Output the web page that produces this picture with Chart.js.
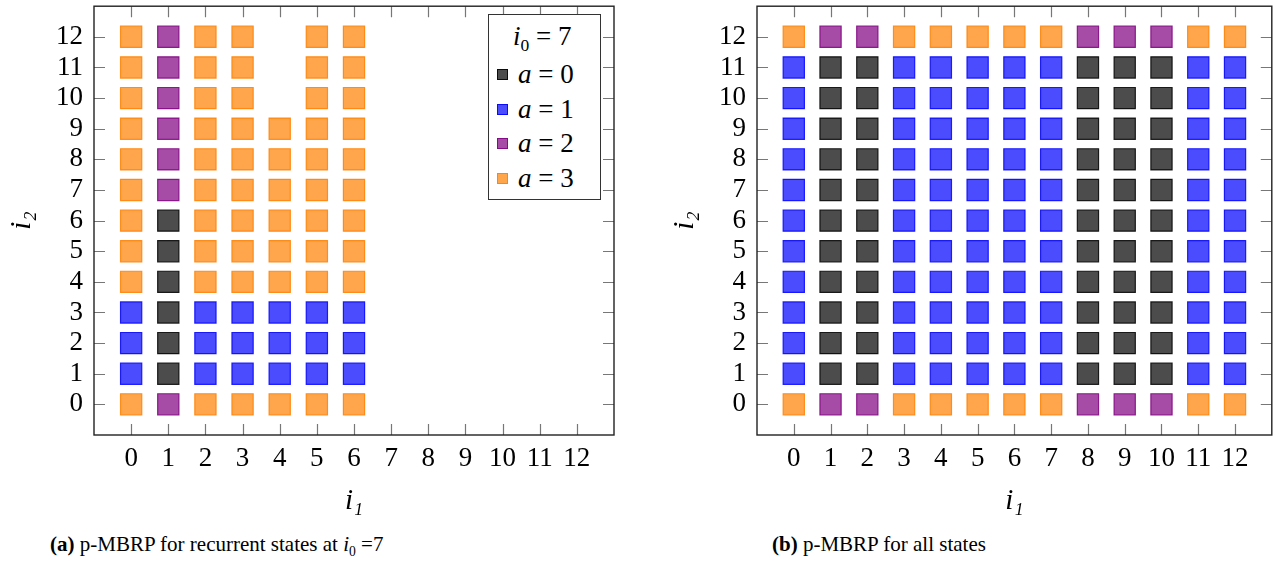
<!DOCTYPE html>
<html>
<head>
<meta charset="utf-8">
<script src="https://cdn.jsdelivr.net/npm/chart.js@4.4.1/dist/chart.umd.min.js"></script>
<style>
  body { margin: 0; background: #fff; font-family: "Liberation Serif", "DejaVu Serif", serif; }
  #page { position: relative; width: 1288px; height: 568px; overflow: hidden; }
  canvas { position: absolute; top: -10px; }
  #legend {
    position: absolute; left: 488px; top: 14px; width: 111px; height: 184px;
    border: 1.3px solid #333; background: #fff; font-size: 27px; color: #000;
  }
  #legend .title { position: absolute; left: 24px; top: 6px; white-space: nowrap; }
  #legend .row { position: absolute; left: 8px; white-space: nowrap; line-height: 30px; }
  #legend .sw { display: inline-block; width: 9px; height: 9px; border: 1px solid; margin-right: 10px; vertical-align: 3px; }
  sub { font-size: 65%; vertical-align: -0.35em; }
  .caption { position: absolute; top: 532px; font-size: 21px; white-space: nowrap; color: #000; }
</style>
</head>
<body>
<div id="page">
  <canvas id="chartA" width="640" height="530" style="left:0"></canvas>
  <canvas id="chartB" width="648" height="530" style="left:640px"></canvas>
  <div id="legend"></div>
  <div class="caption" style="left:50px"><b>(a)</b> p-MBRP for recurrent states at <i>i</i><sub>0</sub> =7</div>
  <div class="caption" style="left:772px"><b>(b)</b> p-MBRP for all states</div>
</div>
<script>
const i1Ticks = [0, 1, 2, 3, 4, 5, 6, 7, 8, 9, 10, 11, 12];
const i2Ticks = [0, 1, 2, 3, 4, 5, 6, 7, 8, 9, 10, 11, 12];
const actions = [0, 1, 2, 3];
const actionLabels = ["a = 0", "a = 1", "a = 2", "a = 3"];
const actionColors = ["0,0,0", "0,0,255", "128,0,128", "255,128,0"];

// best action per state, one row per i2 (0..12), columns are i1; null = state not recurrent
const policyRecurrent = [
  [3, 2, 3, 3, 3, 3, 3],
  [1, 0, 1, 1, 1, 1, 1],
  [1, 0, 1, 1, 1, 1, 1],
  [1, 0, 1, 1, 1, 1, 1],
  [3, 0, 3, 3, 3, 3, 3],
  [3, 0, 3, 3, 3, 3, 3],
  [3, 0, 3, 3, 3, 3, 3],
  [3, 2, 3, 3, 3, 3, 3],
  [3, 2, 3, 3, 3, 3, 3],
  [3, 2, 3, 3, 3, 3, 3],
  [3, 2, 3, 3, null, 3, 3],
  [3, 2, 3, 3, null, 3, 3],
  [3, 2, 3, 3, null, 3, 3]
];

const policyAll = [
  [3, 2, 2, 3, 3, 3, 3, 3, 2, 2, 2, 3, 3],
  [1, 0, 0, 1, 1, 1, 1, 1, 0, 0, 0, 1, 1],
  [1, 0, 0, 1, 1, 1, 1, 1, 0, 0, 0, 1, 1],
  [1, 0, 0, 1, 1, 1, 1, 1, 0, 0, 0, 1, 1],
  [1, 0, 0, 1, 1, 1, 1, 1, 0, 0, 0, 1, 1],
  [1, 0, 0, 1, 1, 1, 1, 1, 0, 0, 0, 1, 1],
  [1, 0, 0, 1, 1, 1, 1, 1, 0, 0, 0, 1, 1],
  [1, 0, 0, 1, 1, 1, 1, 1, 0, 0, 0, 1, 1],
  [1, 0, 0, 1, 1, 1, 1, 1, 0, 0, 0, 1, 1],
  [1, 0, 0, 1, 1, 1, 1, 1, 0, 0, 0, 1, 1],
  [1, 0, 0, 1, 1, 1, 1, 1, 0, 0, 0, 1, 1],
  [1, 0, 0, 1, 1, 1, 1, 1, 0, 0, 0, 1, 1],
  [3, 2, 2, 3, 3, 3, 3, 3, 2, 2, 2, 3, 3]
];

Chart.defaults.font.family = "'Liberation Serif', 'DejaVu Serif', serif";
Chart.defaults.color = "#000";

function buildDatasets(policy) {
  return actions.map(a => {
    const pts = [];
    policy.forEach((row, i2) => {
      row.forEach((act, i1) => {
        if (act === a) pts.push({ x: i1, y: i2 });
      });
    });
    return {
      label: actionLabels[a],
      data: pts,
      pointStyle: "rect",
      pointRadius: 15,
      pointHoverRadius: 15,
      borderWidth: 1.2,
      backgroundColor: `rgba(${actionColors[a]},0.7)`,
      borderColor: `rgba(${actionColors[a]},0.85)`
    };
  });
}

// pgfplots style box with inward ticks on all four sides
const frameTicks = {
  id: "frameTicks",
  afterDatasetsDraw(chart) {
    const { ctx, chartArea: a, scales: { x, y } } = chart;
    const len = 11;
    ctx.save();
    ctx.strokeStyle = "#777";
    ctx.lineWidth = 1.2;
    ctx.beginPath();
    x.ticks.forEach(t => {
      const px = Math.round(x.getPixelForValue(t.value)) + 0.5;
      ctx.moveTo(px, a.bottom); ctx.lineTo(px, a.bottom - len);
      ctx.moveTo(px, a.top); ctx.lineTo(px, a.top + len);
    });
    y.ticks.forEach(t => {
      const py = Math.round(y.getPixelForValue(t.value)) + 0.5;
      ctx.moveTo(a.left, py); ctx.lineTo(a.left + len, py);
      ctx.moveTo(a.right, py); ctx.lineTo(a.right - len, py);
    });
    ctx.stroke();
    ctx.strokeStyle = "#222";
    ctx.lineWidth = 1.4;
    ctx.strokeRect(a.left, a.top, a.right - a.left, a.bottom - a.top);
    ctx.restore();
  }
};

function makeChart(id, policy, yWidth, yTitlePad, rightPad) {
  return new Chart(document.getElementById(id), {
    type: "scatter",
    data: { datasets: buildDatasets(policy) },
    options: {
      responsive: false,
      animation: false,
      devicePixelRatio: 1,
      layout: { padding: { top: 0, right: rightPad, left: 0, bottom: 0 } },
      plugins: { legend: { display: false }, tooltip: { enabled: false } },
      scales: {
        x: {
          type: "linear", min: -1, max: 13,
          afterBuildTicks: s => { s.ticks = i1Ticks.map(v => ({ value: v })); },
          afterFit: s => { s.height = 85; s.paddingLeft = 0; s.paddingRight = 0; },
          grid: { display: false, drawTicks: false },
          border: { display: false },
          ticks: { font: { size: 27 }, padding: 8, maxRotation: 0, autoSkip: false, callback: v => String(v) },
          title: { display: true, text: "i₁", font: { size: 29, style: "italic" }, padding: { top: 0, bottom: 1 } }
        },
        y: {
          type: "linear", min: -1, max: 13,
          afterBuildTicks: s => { s.ticks = i2Ticks.map(v => ({ value: v })); },
          afterFit: s => { s.width = yWidth; s.paddingTop = 0; s.paddingBottom = 0; },
          grid: { display: false, drawTicks: false },
          border: { display: false },
          ticks: { font: { size: 27 }, padding: 11, autoSkip: false, callback: v => String(v) },
          title: { display: true, text: "i₂", font: { size: 29, style: "italic" }, padding: { top: yTitlePad, bottom: 0 } }
        }
      }
    },
    plugins: [frameTicks]
  });
}

makeChart("chartA", policyRecurrent, 94, 5, 26);
makeChart("chartB", policyAll, 117, 28, 14);

// legend for the left panel
const legend = document.getElementById("legend");
legend.innerHTML = `<div class="title"><i>i</i><sub>0</sub> = 7</div>` +
  actions.map((a, k) => {
    const [name, val] = actionLabels[a].split(" = ");
    return `<div class="row" style="top:${44 + k * 34.7}px">` +
      `<span class="sw" style="background:rgba(${actionColors[a]},0.7);border-color:rgba(${actionColors[a]},0.85)"></span>` +
      `<i>${name}</i> = ${val}</div>`;
  }).join("");
</script>
</body>
</html>
